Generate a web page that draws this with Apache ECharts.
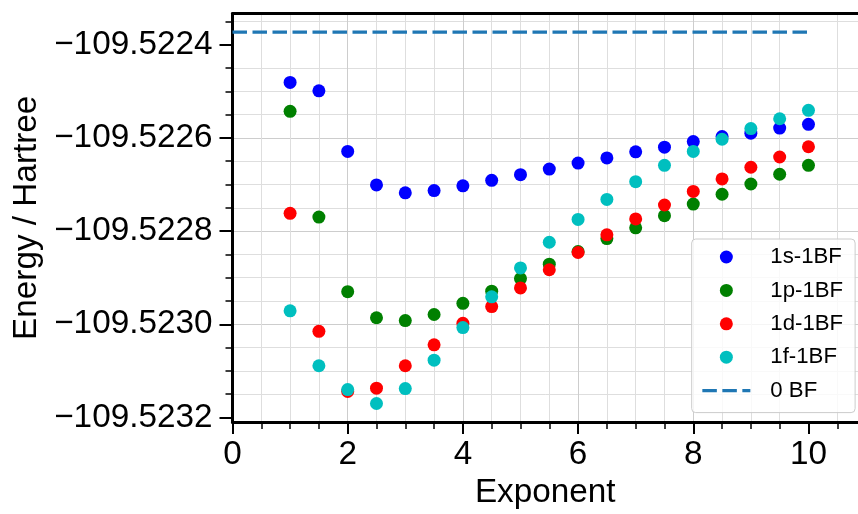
<!DOCTYPE html>
<html>
<head>
<meta charset="utf-8">
<script src="https://cdn.jsdelivr.net/npm/echarts@6/dist/echarts.min.js"></script>
<style>
  html, body { margin: 0; padding: 0; background: #ffffff; }
  #chart { width: 858px; height: 514px; }
</style>
</head>
<body>
<div id="chart"></div>
<script>
// Gaussian exponent scanned for the single added basis function
const exponents = [1, 1.5, 2, 2.5, 3, 3.5, 4, 4.5, 5, 5.5, 6, 6.5, 7, 7.5, 8, 8.5, 9, 9.5, 10];

// Total energies (Hartree) for each type of added function
const energy1s = [-109.522481, -109.522499, -109.522629, -109.522701, -109.522718, -109.522713, -109.522703,
  -109.522691, -109.522679, -109.522667, -109.522654, -109.522643, -109.522630, -109.522620, -109.522608,
  -109.522597, -109.522590, -109.522579, -109.522571];
const energy1p = [-109.522543, -109.522770, -109.522930, -109.522986, -109.522992, -109.522979, -109.522955,
  -109.522929, -109.522902, -109.522871, -109.522844, -109.522816, -109.522793, -109.522767, -109.522742,
  -109.522721, -109.522699, -109.522678, -109.522659];
const energy1d = [-109.522762, -109.523015, -109.523144, -109.523137, -109.523089, -109.523044, -109.522998,
  -109.522962, -109.522922, -109.522883, -109.522846, -109.522808, -109.522774, -109.522744, -109.522715,
  -109.522688, -109.522663, -109.522641, -109.522619];
const energy1f = [-109.522971, -109.523089, -109.523140, -109.523170, -109.523138, -109.523077, -109.523007,
  -109.522941, -109.522879, -109.522824, -109.522775, -109.522732, -109.522694, -109.522659, -109.522629,
  -109.522603, -109.522580, -109.522559, -109.522541];

// Energy without any added basis function, drawn across the exponent range
const energy0BF = -109.522373;
const baselineSpan = [0, 10];

// Tick values
const yTickValues = [-109.5232, -109.5230, -109.5228, -109.5226, -109.5224];
const xTickValues = [0, 2, 4, 6, 8, 10];

const seriesNames = ['1s-1BF', '1p-1BF', '1d-1BF', '1f-1BF', '0 BF'];

const FONT = '"Liberation Sans", Arial, Helvetica, sans-serif';
const BASELINE_STYLE = { color: '#1f77b4', width: 3.3, type: [14.5, 5.5] };
const X_MAX = 10.86;

// y range: data extent padded by 5% on each side
const allY = energy1s.concat(energy1p, energy1d, energy1f, [energy0BF]);
const yLo = Math.min.apply(null, allY);
const yHi = Math.max.apply(null, allY);
const yPad = 0.05 * (yHi - yLo);

function pairs(xs, ys) { return xs.map((x, i) => [x, ys[i]]); }

function scatter(name, values, color) {
  return {
    name: name,
    type: 'scatter',
    data: pairs(exponents, values),
    symbol: 'circle',
    symbolSize: 13,
    itemStyle: { color: color, opacity: 1 },
    emphasis: { disabled: true },
    z: 3
  };
}

const chart = echarts.init(document.getElementById('chart'), null, { renderer: 'canvas' });

const gridLine = { show: true, lineStyle: { color: '#cdcdcd', width: 1 }, showMinLine: false, showMaxLine: false };
const minorGridLine = { show: true, lineStyle: { color: '#dedede', width: 1 } };

chart.setOption({
  animation: false,
  backgroundColor: '#ffffff',
  textStyle: { fontFamily: FONT },
  grid: { left: 232.5, top: 13.5, right: 0, height: 412, containLabel: false },
  xAxis: [{
    type: 'value',
    min: 0,
    max: X_MAX,
    interval: 2,
    name: 'Exponent',
    nameLocation: 'middle',
    nameGap: 50,
    nameTextStyle: { fontSize: 33.3, color: '#000', fontFamily: FONT },
    axisLine: { show: true, onZero: false, lineStyle: { color: '#000', width: 3 } },
    axisTick: { show: true, inside: false, length: 12, lineStyle: { color: '#000', width: 2 }, customValues: xTickValues },
    minorTick: { show: true, splitNumber: 4, length: 7, lineStyle: { color: '#000', width: 1.5 } },
    axisLabel: { show: true, fontSize: 33.3, color: '#000', margin: 16, fontFamily: FONT, customValues: xTickValues },
    splitLine: gridLine,
    minorSplitLine: minorGridLine
  }, {
    // top frame edge
    type: 'value',
    position: 'top',
    min: 0,
    max: X_MAX,
    axisLine: { show: true, onZero: false, lineStyle: { color: '#000', width: 3 } },
    axisTick: { show: false },
    axisLabel: { show: false },
    splitLine: { show: false }
  }],
  yAxis: {
    type: 'value',
    min: yLo - yPad,
    max: yHi + yPad,
    splitNumber: 4,
    name: 'Energy / Hartree',
    nameLocation: 'middle',
    nameRotate: 90,
    nameGap: 186,
    nameTextStyle: { fontSize: 33.3, color: '#000', fontFamily: FONT },
    axisLine: { show: true, onZero: false, lineStyle: { color: '#000', width: 3 } },
    axisTick: { show: true, inside: false, length: 13, lineStyle: { color: '#000', width: 2 }, customValues: yTickValues },
    minorTick: { show: true, splitNumber: 4, length: 7, lineStyle: { color: '#000', width: 1.5 } },
    axisLabel: {
      show: true, fontSize: 33.3, color: '#000', margin: 20, fontFamily: FONT,
      customValues: yTickValues,
      formatter: v => '\u2212' + Math.abs(v).toFixed(4)
    },
    splitLine: gridLine,
    minorSplitLine: minorGridLine
  },
  legend: {
    orient: 'vertical',
    left: 691.7,
    top: 239,
    itemWidth: 48,
    itemHeight: 13,
    itemGap: 11.4,
    padding: [7, 12, 11, 9],
    backgroundColor: 'rgba(255,255,255,0.8)',
    borderColor: '#cccccc',
    borderWidth: 1,
    borderRadius: 4,
    textStyle: { fontSize: 22.2, color: '#000', fontFamily: FONT, padding: [0, 0, 0, 15] },
    data: [
      { name: seriesNames[0], icon: 'circle' },
      { name: seriesNames[1], icon: 'circle' },
      { name: seriesNames[2], icon: 'circle' },
      { name: seriesNames[3], icon: 'circle' },
      { name: seriesNames[4], itemStyle: { opacity: 0 }, lineStyle: BASELINE_STYLE }
    ],
    selectedMode: false,
    z: 10
  },
  series: [
    scatter(seriesNames[0], energy1s, '#0000ff'),
    scatter(seriesNames[1], energy1p, '#008000'),
    scatter(seriesNames[2], energy1d, '#ff0000'),
    scatter(seriesNames[3], energy1f, '#00bfbf'),
    {
      name: seriesNames[4],
      type: 'line',
      data: baselineSpan.map(x => [x, energy0BF]),
      symbol: 'none',
      lineStyle: BASELINE_STYLE,
      emphasis: { disabled: true },
      z: 3
    }
  ]
});
</script>
</body>
</html>
